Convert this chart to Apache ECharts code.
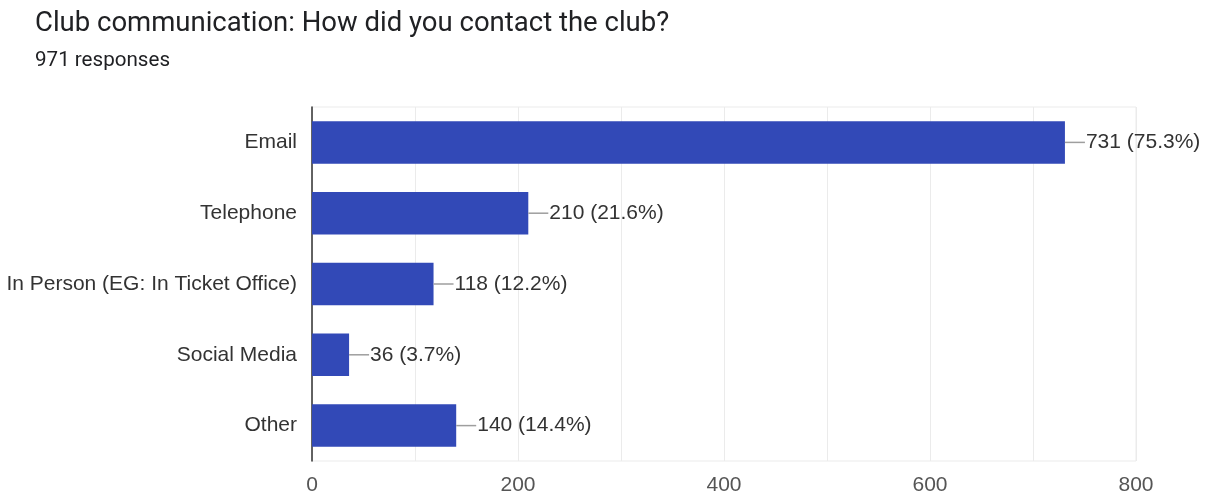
<!DOCTYPE html>
<html>
<head>
<meta charset="utf-8">
<script src="https://cdn.jsdelivr.net/npm/echarts@6/dist/echarts.min.js"></script>
<style>
  html, body { margin: 0; padding: 0; background: #fff; }
  #chart { width: 1205px; height: 499px; }
</style>
</head>
<body>
<div id="chart"></div>
<script>
const titleText = 'Club communication: How did you contact the club?';
const subtitleText = '971 responses';
const categories = ['Email', 'Telephone', 'In Person (EG: In Ticket Office)', 'Social Media', 'Other'];
const counts = [731, 210, 118, 36, 140];
const percents = ['75.3', '21.6', '12.2', '3.7', '14.4'];
const xTicks = [0, 200, 400, 600, 800];

const chart = echarts.init(document.getElementById('chart'), null, { renderer: 'canvas' });

chart.setOption({
  animation: false,
  title: [
    {
      text: titleText,
      left: 30, top: 5,
      textStyle: { fontFamily: 'Roboto', fontSize: 27.5, fontWeight: 'normal', color: '#202124' }
    },
    {
      text: subtitleText,
      left: 30, top: 45,
      textStyle: { fontFamily: 'Roboto', fontSize: 20.6, fontWeight: 'normal', color: '#202124' }
    }
  ],
  grid: {
    left: 312, right: 69, top: 107, bottom: 38, containLabel: false,
    show: true, borderColor: '#ebebeb', borderWidth: 1
  },
  xAxis: {
    type: 'value',
    min: 0, max: 800, interval: 100,
    axisLine: { show: false },
    axisTick: { show: false },
    splitLine: { show: true, lineStyle: { color: '#ebebeb', width: 1 } },
    axisLabel: {
      margin: 14,
      fontFamily: 'Liberation Sans',
      fontSize: 21,
      color: '#555',
      formatter: v => (xTicks.indexOf(v) >= 0 ? String(v) : '')
    }
  },
  yAxis: {
    type: 'category',
    data: categories,
    inverse: true,
    axisLine: { show: true, lineStyle: { color: '#333', width: 1.5 } },
    axisTick: { show: false },
    splitLine: { show: false },
    axisLabel: {
      margin: 15,
      fontFamily: 'Liberation Sans',
      fontSize: 21,
      color: '#333'
    }
  },
  series: [{
    type: 'bar',
    data: counts,
    barCategoryGap: '40%',
    itemStyle: { color: '#3249b7' },
    label: {
      show: true,
      position: 'right',
      distance: 0,
      formatter: p => '{ln|}{t|' + counts[p.dataIndex] + ' (' + percents[p.dataIndex] + '%)}',
      rich: {
        ln: { width: 20, height: 1.5, backgroundColor: '#9e9e9e' },
        t: { fontFamily: 'Liberation Sans', fontSize: 21, color: '#333', padding: [0, 0, 0, 1] }
      }
    }
  }]
});
</script>
</body>
</html>
